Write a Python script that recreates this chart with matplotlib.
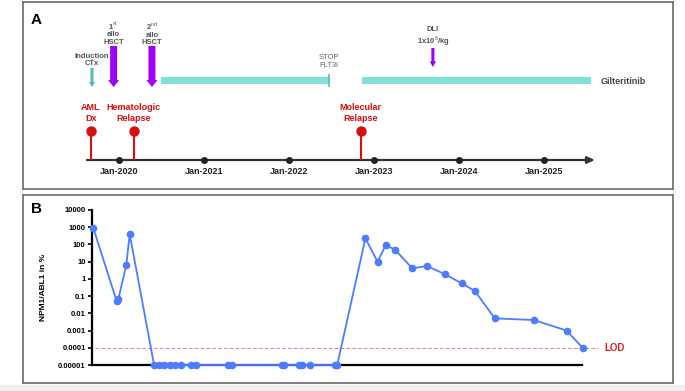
"""Treatment timeline (A) and NPM1/ABL1 MRD course (B)."""
import matplotlib
matplotlib.use("Agg")
import matplotlib.pyplot as plt
from matplotlib.patches import Rectangle
import pandas as pd

plt.rcParams["font.family"] = ["Liberation Sans", "DejaVu Sans"]
plt.rcParams["mathtext.fontset"] = "custom"
plt.rcParams["mathtext.rm"] = "Liberation Sans"
plt.rcParams["mathtext.bf"] = "Liberation Sans:bold"

W, H = 685, 391

# ---- panel A data ----
year_labels = ["Jan-2020", "Jan-2021", "Jan-2022", "Jan-2023", "Jan-2024", "Jan-2025"]
year_dates = ["2020-01-01", "2021-01-01", "2022-01-01", "2023-01-01", "2024-01-01", "2025-01-01"]
event_labels = ["AML\nDx", "Hematologic\nRelapse", "Molecular\nRelapse"]
event_dates = ["2019-09-03", "2020-03-05", "2022-11-05"]
induction_date = "2019-09-07"
hsct_labels = ["1$^{\\rm st}$\nallo\nHSCT", "2$^{\\rm nd}$\nallo\nHSCT"]
hsct_dates = ["2019-12-09", "2020-05-22"]
dli_date = "2023-09-11"
gilt_starts = ["2020-06-30", "2022-11-10"]
gilt_ends = ["2022-06-22", "2025-07-20"]
timeline_span = ["2019-08-16", "2025-08-08"]

# ---- panel B data ----
mrd_dates = [
    "2019-09-12", "2019-12-22", "2019-12-29", "2020-02-01", "2020-02-16",
    "2020-05-31", "2020-06-22", "2020-07-13", "2020-08-08", "2020-08-29",
    "2020-09-26", "2020-11-05", "2020-11-29", "2021-04-15", "2021-05-03",
    "2021-11-30", "2021-12-10", "2022-02-11", "2022-02-25", "2022-04-02",
    "2022-07-17", "2022-07-27",
    "2022-11-25", "2023-01-16", "2023-02-21", "2023-04-03", "2023-06-14",
    "2023-08-17", "2023-11-02", "2024-01-13", "2024-03-09", "2024-06-03",
    "2024-11-18", "2025-04-08", "2025-06-16",
]
mrd_values = [
    950, 0.05, 0.065, 6.3, 390,
    1e-5, 1e-5, 1e-5, 1e-5, 1e-5,
    1e-5, 1e-5, 1e-5, 1e-5, 1e-5,
    1e-5, 1e-5, 1e-5, 1e-5, 1e-5,
    1e-5, 1e-5,
    226, 10, 93, 47, 4.1,
    5.6, 1.85, 0.55, 0.2, 0.0051,
    0.0041, 0.001, 0.0001,
]
ytick_values = [1e-5, 1e-4, 1e-3, 1e-2, 1e-1, 1, 10, 100, 1000, 10000]
ytick_labels = ["0.00001", "0.0001", "0.001", "0.01", "0.1", "1", "10", "100", "1000", "10000"]
LOD = 1e-4

RED = "#d80f0f"
TEAL = "#80e0da"
TEAL_DARK = "#5db8b8"
PURPLE = "#a000f5"
GRAY = "#555555"
BLUE = "#4f7bff"


def dy(s):
    d = pd.Timestamp(s)
    return d.year + (d.dayofyear - 1) / (366 if d.is_leap_year else 365)


def dys(lst):
    return [dy(s) for s in lst]


def frame(ax):
    ax.set_xticks([])
    ax.set_yticks([])
    for sp in ax.spines.values():
        sp.set_color("#6a6a6a")
        sp.set_linewidth(1.2)


def down_arrow(ax, x, y0, y1, color, tail, head, hlen):
    ax.annotate("", xy=(x, y1), xytext=(x, y0),
                arrowprops=dict(arrowstyle=f"simple,head_width={head},head_length={hlen},tail_width={tail}",
                                color=color, lw=0, shrinkA=0, shrinkB=0))


fig = plt.figure(figsize=(W / 100, H / 100), dpi=100)
fig.patches.append(Rectangle((0, 0), 1, 6 / H, transform=fig.transFigure,
                             color="#f0f0f0", zorder=0))

# ---------------- panel A ----------------
ax_a = fig.add_axes([23 / W, 1 - 189 / H, 650 / W, 187 / H])
frame(ax_a)
ax_a.set_xlim(2018.871, 2026.518)
ax_a.set_ylim(189, 2)
ax_a.text(2019.03, 20, "A", fontsize=11, fontweight="bold", ha="center", va="center")

t0, t1 = dys(timeline_span)
ax_a.annotate("", xy=(t1, 160), xytext=(t0, 160),
              arrowprops=dict(arrowstyle="-|>,head_length=0.45,head_width=0.2",
                              color="#333333", lw=1.6, shrinkA=0, shrinkB=0))
yt = dys(year_dates)
ax_a.plot(yt, [160] * len(yt), "o", ms=4, color="#222222", zorder=4)
for t, lab in zip(yt, year_labels):
    ax_a.text(t, 172, lab, ha="center", va="center", fontsize=6.5,
              fontweight="bold", color="#222222")

et = dys(event_dates)
ax_a.vlines(et, 131, 160, color=RED, lw=1.5, zorder=3)
ax_a.plot(et, [131] * len(et), "o", ms=6.5, color=RED, zorder=4)
for t, lab in zip(et, event_labels):
    ax_a.text(t, 113, lab, ha="center", va="center", fontsize=6.5,
              fontweight="bold", color=RED, linespacing=1.15)

ti = dy(induction_date)
down_arrow(ax_a, ti, 68, 87, TEAL_DARK, 0.22, 0.45, 0.35)
ax_a.text(ti, 60, "Induction\nCTx", ha="center", va="center", fontsize=5.5,
          fontweight="bold", color=GRAY, linespacing=1.1)

for t, lab in zip(dys(hsct_dates), hsct_labels):
    down_arrow(ax_a, t, 46, 87, PURPLE, 0.5, 0.8, 0.5)
    ax_a.text(t, 33, lab, ha="center", va="center", fontsize=5.5,
              fontweight="bold", color=GRAY, linespacing=1.1)

td = dy(dli_date)
down_arrow(ax_a, td, 48, 67, PURPLE, 0.22, 0.45, 0.4)
ax_a.text(td, 37, "DLI\n1x10$^{6}$/kg", ha="center", va="center", fontsize=5.5,
          fontweight="bold", color=GRAY, linespacing=1.1)

gs, ge = dys(gilt_starts), dys(gilt_ends)
ax_a.broken_barh([(s, e - s) for s, e in zip(gs, ge)], (77.5, 7), color=TEAL, lw=0)
ax_a.vlines(ge[0], 74, 87, color=TEAL_DARK, lw=1.2)
ax_a.text(ge[0], 61.5, "STOP\nFLT3i", ha="center", va="center", fontsize=5.5,
          color="#666666", linespacing=1.1)
ax_a.text(ge[1] + 0.12, 81, "Gilteritinib", ha="left", va="center", fontsize=6.5,
          fontweight="bold", color="#444444")

# ---------------- panel B ----------------
ax_f = fig.add_axes([23 / W, 1 - 383 / H, 650 / W, 188 / H])
frame(ax_f)
ax_f.text(13 / 650, 1 - 14 / 188, "B", transform=ax_f.transAxes, fontsize=11,
          fontweight="bold", ha="center", va="center")

ax_b = fig.add_axes([92 / W, 1 - 365 / H, 490 / W, 155 / H])
ax_b.set_yscale("log")
ax_b.set_ylim(1e-5, 1e4)
ax_b.set_xlim(2019.682, 2025.447)
ax_b.set_xticks([])
ax_b.set_yticks(ytick_values)
ax_b.set_yticklabels(ytick_labels, fontweight="bold")
ax_b.minorticks_off()
ax_b.tick_params(axis="y", length=3, width=1.2, labelsize=5.5, pad=1.5)
for side in ("top", "right"):
    ax_b.spines[side].set_visible(False)
for side in ("left", "bottom"):
    ax_b.spines[side].set_linewidth(1.6)
ax_b.patch.set_alpha(0)
ax_b.set_ylabel("NPM1/ABL1 in %", fontsize=6, fontweight="bold")
ax_b.yaxis.set_label_coords(-45 / 490, 0.5)

ax_b.plot(dys(mrd_dates), mrd_values, "-o", color=BLUE, lw=1.3, ms=4.5,
          clip_on=False, zorder=5)
ax_b.axhline(LOD, xmin=3 / 490, xmax=506 / 490, color="#f08080", lw=0.7,
             ls=(0, (4, 2)), clip_on=False)
ax_b.text(512 / 490, LOD, "LOD", transform=ax_b.get_yaxis_transform(),
          ha="left", va="center", fontsize=7, fontweight="bold", color="#e02020")

fig.savefig("out.png", dpi=100)
